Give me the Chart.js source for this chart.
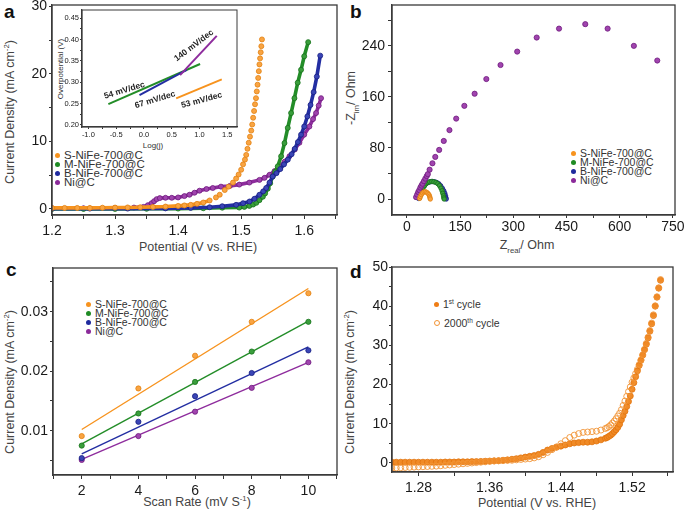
<!DOCTYPE html>
<html>
<head>
<meta charset="utf-8">
<script src="https://cdn.jsdelivr.net/npm/chart.js@4.4.1/dist/chart.umd.min.js"></script>
<style>
body{margin:0;width:685px;height:516px;overflow:hidden;background:#fff;position:relative;font-family:"Liberation Sans",Arial,sans-serif}
canvas{position:absolute}
.t{position:absolute;white-space:nowrap;color:#444;font-size:12.5px;transform:translate(-50%,-50%)}
.r{transform:translate(-50%,-50%) rotate(-90deg)}
.sm{font-size:8px;color:#333}
.lbl{position:absolute;font-weight:bold;font-size:19px;color:#111;line-height:19px}
.leg{position:absolute;font-size:11px;color:#333}
.leg div{height:9px;line-height:9px;white-space:nowrap}
.dot{display:inline-block;width:5px;height:5px;border-radius:50%;margin-right:4px;vertical-align:1px}
sup,sub{font-size:0.62em;line-height:0}
</style>
</head>
<body>
<!-- panel a -->
<div class="lbl" style="left:4px;top:2px">a</div>
<div class="t r" style="left:10px;top:112px">Current Density (mA cm<sup>-2</sup>)</div>
<div class="t" style="left:198px;top:247px">Potential (V vs. RHE)</div>
<div class="t r sm" style="left:60px;top:69px">Overpotential (V)</div>
<div class="t sm" style="left:153px;top:145px">Log(j)</div>
<div class="leg" style="left:55px;top:151px;font-size:11.5px">
  <div><span class="dot" style="background:#f7931e"></span>S-NiFe-700@C</div>
  <div><span class="dot" style="background:#1f8b24"></span>M-NiFe-700@C</div>
  <div><span class="dot" style="background:#1f2a9e"></span>B-NiFe-700@C</div>
  <div><span class="dot" style="background:#8b2a9a"></span>Ni@C</div>
</div>
<!-- panel b -->
<div class="lbl" style="left:350px;top:2px">b</div>
<div class="t r" style="left:351px;top:98px">-Z<sub>im</sub>/ Ohm</div>
<div class="t" style="left:527px;top:245px">Z<sub>real</sub>/ Ohm</div>
<div class="leg" style="left:571px;top:149px;font-size:10.5px">
  <div><span class="dot" style="background:#f7931e"></span>S-NiFe-700@C</div>
  <div><span class="dot" style="background:#1f8b24"></span>M-NiFe-700@C</div>
  <div><span class="dot" style="background:#1f2a9e"></span>B-NiFe-700@C</div>
  <div><span class="dot" style="background:#8b2a9a"></span>Ni@C</div>
</div>
<!-- panel c -->
<div class="lbl" style="left:6px;top:260px">c</div>
<div class="t r" style="left:10px;top:382px">Current Density (mA cm<sup>-2</sup>)</div>
<div class="t" style="left:197px;top:502px">Scan Rate (mV S<sup>-1</sup>)</div>
<div class="leg" style="left:86px;top:300px;font-size:10.5px">
  <div><span class="dot" style="background:#f7931e"></span>S-NiFe-700@C</div>
  <div><span class="dot" style="background:#1f8b24"></span>M-NiFe-700@C</div>
  <div><span class="dot" style="background:#1f2a9e"></span>B-NiFe-700@C</div>
  <div><span class="dot" style="background:#8b2a9a"></span>Ni@C</div>
</div>
<!-- panel d -->
<div class="lbl" style="left:350px;top:262px">d</div>
<div class="t r" style="left:350px;top:382px">Current Density (mA cm<sup>-2</sup>)</div>
<div class="t" style="left:537px;top:503px">Potential (V vs. RHE)</div>
<div class="leg" style="left:434px;top:300px;font-size:10.5px">
  <div style="height:19px"><span class="dot" style="background:#ef7d16"></span>1<sup>st</sup> cycle</div>
  <div><span class="dot" style="background:#fff;border:1px solid #f29436;width:4px;height:4px"></span>2000<sup>th</sup> cycle</div>
</div>

<script>
const FONT = '"Liberation Sans", Arial, sans-serif'

// ---- panel a: polarization curves ----
const aSPot = [1.20,1.22,1.24,1.26,1.28,1.30,1.32,1.34,1.36,1.38,1.40,1.41,1.42,1.43,1.44,1.45,1.46,1.466,1.474,1.480,1.487,1.492,1.496,1.500,1.503,1.506,1.508,1.510,1.512,1.514,1.516,1.5175,1.519,1.5205,1.522,1.5235,1.5248,1.526,1.527,1.528,1.529,1.530,1.531,1.532,1.533]
const aSJ = [0.15,0.15,0.15,0.15,0.18,0.2,0.22,0.25,0.3,0.35,0.45,0.52,0.6,0.75,0.95,1.25,1.7,2.1,2.8,3.3,3.9,4.5,5.1,5.8,6.6,7.3,8.0,8.9,9.8,10.7,11.6,12.5,13.5,14.5,15.5,16.4,17.4,18.4,19.4,20.4,21.4,22.3,23.2,24.1,25.1]
const aMPot = [1.20,1.25,1.30,1.35,1.40,1.44,1.47,1.497,1.505,1.513,1.519,1.524,1.529,1.5344,1.538,1.5423,1.546,1.550,1.554,1.558,1.5634,1.5687,1.5739,1.5792,1.5845,1.5897,1.595,1.600,1.6063]
const aMJ = [0,0,0,0.02,0.05,0.1,0.18,0.2,0.3,0.45,0.65,0.9,1.3,1.8,2.3,3.0,3.8,4.8,5.5,6.3,7.8,9.75,12.0,14.2,16.4,18.7,20.6,22.6,24.7]
const aBPot = [1.20,1.26,1.32,1.38,1.42,1.45,1.47,1.492,1.503,1.5133,1.521,1.529,1.535,1.5397,1.545,1.550,1.556,1.562,1.568,1.574,1.580,1.585,1.590,1.595,1.600,1.605,1.610,1.615,1.620,1.6254]
const aBJ = [0.05,0.05,0.05,0.08,0.15,0.25,0.4,0.6,0.85,1.1,1.5,2.1,2.6,3.1,3.9,4.8,5.3,5.9,6.6,7.3,8.1,8.9,9.9,11.0,12.2,13.7,15.4,17.3,19.6,22.7]
const aNPot = [1.20,1.25,1.30,1.33,1.345,1.352,1.358,1.362,1.366,1.371,1.38,1.39,1.40,1.41,1.418,1.426,1.434,1.445,1.455,1.468,1.482,1.497,1.513,1.529,1.537,1.545,1.553,1.5608,1.569,1.5766,1.585,1.5924,1.600,1.6082,1.614,1.6188,1.623,1.6267]
const aNJ = [0.1,0.1,0.15,0.2,0.3,0.55,0.85,1.15,1.45,1.6,1.65,1.65,1.7,1.9,2.1,2.4,2.7,2.95,3.1,3.3,3.4,3.6,3.9,4.3,4.6,5.05,5.6,6.3,7.0,7.8,8.8,9.8,11.0,12.2,13.3,14.2,15.3,16.4]
const aXTicks = [1.2,1.25,1.3,1.35,1.4,1.45,1.5,1.55,1.6,1.65]
const aXLabels = ['1.2','','1.3','','1.4','','1.5','','1.6','']
const aYTicks = [0,5,10,15,20,25,30]
const aYLabels = ['0','','10','','20','','30']

// inset: Tafel fits
const insLogS = [0.58,1.40], insEtaS = [0.2625,0.307]
const insLogM = [-0.64,1.01], insEtaM = [0.249,0.343]
const insLogB = [-0.08,0.77], insEtaB = [0.27,0.329]
const insLogN = [0.65,1.31], insEtaN = [0.317,0.409]
const insXTicks = [-1,-0.75,-0.5,-0.25,0,0.25,0.5,0.75,1,1.25,1.5]
const insXLabels = ['-1.0','','-0.5','','0.0','','0.5','','1.0','','1.5']
const insYTicks = [0.2,0.225,0.25,0.275,0.3,0.325,0.35,0.375,0.4,0.425,0.45]
const insYLabels = ['0.20','','0.25','','0.30','','0.35','','0.40','','0.45']

// ---- panel b: Nyquist ----
const bSRe = [36,38,41,44,48,52,56,59,62,64,65,66]
const bSIm = [1,4,7,9.5,11,11.5,10.5,9,7,4.5,2,0]
const bMRe = [36,38,40,43,46,50,54,59,64,70,76,82,87,92,96,99,101,103,104,105]
const bMIm = [2,6,10,14,18,21,24,26,27,27.5,27,26,24,21,17,13,9,5,2,0]
const bBRe = [33,35,38,41,45,49,54,60,66,72,78,84,90,95,100,104,107,109,110,111]
const bBIm = [1,5,10,14,18,21,24,26,27,27.5,27,26,24,21,17,13,9,5,2,0]
const bNRe = [26,29,32,35,38,41,44,48,52,56,59,64,72,80,91,104,120,139,162,191,224,264,311,366,429,503,566,640,706]
const bNIm = [3,7,11,14,18,21,24,28,32,36,39,46,56,66,77,91,108,126,146,165,188,210,231,253,267,274,267,240,217]
const bXTicks = [0,75,150,225,300,375,450,525,600,675,750]
const bXLabels = ['0','','150','','300','','450','','600','','750']
const bYTicks = [0,40,80,120,160,200,240,280]
const bYLabels = ['0','','80','','160','','240','']

// ---- panel c: scan rate ----
const cRate = [2,4,6,8,10]
const cS = [0.0091,0.0171,0.0226,0.0283,0.0331]
const cM = [0.0075,0.0129,0.0182,0.0233,0.0283]
const cB = [0.0054,0.0115,0.0158,0.0197,0.0235]
const cN = [0.0051,0.0091,0.0132,0.0172,0.0215]
const cFitX = [2,10]
const cFitS = [0.0102,0.0339]
const cFitM = [0.0078,0.0284]
const cFitB = [0.0061,0.0241]
const cFitN = [0.0052,0.0215]
const cXTicks = [1,2,3,4,5,6,7,8,9,10,11]
const cXLabels = ['','2','','4','','6','','8','','10','']
const cYTicks = [0.005,0.01,0.015,0.02,0.025,0.03,0.035]
const cYLabels = ['','0.01','','0.02','','0.03','']

// ---- panel d: stability ----
const dPot = [1.250,1.255,1.260,1.265,1.270,1.275,1.280,1.285,1.290,1.295,1.300,1.305,1.310,1.315,1.320,1.325,1.330,1.335,1.340,1.345,1.350,1.355,1.360,1.365,1.370,1.375,1.380,1.385,1.390,1.395,1.400,1.405,1.410,1.415,1.420,1.425,1.430,1.435,1.440,1.445,1.450,1.455,1.460,1.465,1.470,1.475,1.480,1.485,1.490,
  1.492,1.494,1.496,1.498,1.500,1.502,1.504,1.506,1.508,1.510,1.512,1.514,1.516,1.518,1.520,1.522,1.524,1.526,1.528,1.530,1.532,1.534,1.536,1.538,1.540,1.542,1.544,1.546,1.548,1.550,1.552]
const dFirst = [0.2,0.2,0.2,0.2,0.2,0.2,0.2,0.2,0.2,0.2,0.2,
  0.2,0.25,0.25,0.25,0.3,0.3,0.3,0.35,0.35,0.4,0.45,0.5,0.55,0.6,0.7,0.8,0.95,1.1,1.3,1.5,1.7,1.9,2.2,2.7,3.3,3.7,4.0,4.3,4.6,4.9,5.1,5.2,5.3,5.3,5.4,5.6,5.9,6.3,
  6.5,6.8,7.1,7.5,8.0,8.5,9.1,9.9,11.0,12.1,13.2,14.4,15.7,17.1,18.8,20.5,22.0,23.5,24.9,26.2,27.5,28.9,30.3,31.9,33.6,35.5,37.6,40.0,42.3,44.6,46.6]
const dLast = [-1.3,-1.25,-1.2,-1.15,-1.1,-1.05,-1.0,-0.95,-0.9,-0.85,-0.8,
  -0.7,-0.6,-0.5,-0.4,-0.3,-0.2,-0.1,0.0,0.1,0.2,0.3,0.4,0.5,0.55,0.6,0.65,0.7,0.8,0.9,1.0,1.1,1.3,1.6,2.1,2.7,3.4,4.1,4.9,5.7,6.5,7.1,7.5,7.8,7.9,8.0,8.1,8.4,8.8,
  9.0,9.3,9.7,10.2,10.7,11.3,12.0,12.7,13.6,14.7,15.8,17.0,18.2,19.4,20.6,21.7,22.8,23.9,25.1,26.3,27.6,29.0,30.5,32.1,33.8,35.7,37.8,40.1,42.4,44.7,46.8]
const dXTicks = [1.28,1.32,1.36,1.40,1.44,1.48,1.52,1.56]
const dXLabels = ['1.28','','1.36','','1.44','','1.52','']
const dYTicks = [0,5,10,15,20,25,30,35,40,45,50]
const dYLabels = ['0','','10','','20','','30','','40','','50']

const col = {
  S: { line: '#f7931e', fill: '#f9a442', edge: '#e2800f' },
  M: { line: '#238d28', fill: '#3a9e3c', edge: '#17721b' },
  B: { line: '#232ea2', fill: '#3a45b6', edge: '#161e82' },
  N: { line: '#8e2c9d', fill: '#a044ae', edge: '#6e1a7e' }
}

const pts = (xs, ys) => xs.map((x, i) => ({ x: x, y: ys[i] }))

const framePlugin = {
  id: 'frame',
  afterDraw(chart, args, opts) {
    const { left, top, right, bottom } = chart.chartArea
    const ctx = chart.ctx
    ctx.save()
    ctx.strokeStyle = opts.color || '#3a3a3a'
    ctx.lineWidth = opts.width || 1.3
    ctx.strokeRect(left, top, right - left, bottom - top)
    ctx.restore()
  }
}

const notePlugin = {
  id: 'notes',
  afterDatasetsDraw(chart, args, opts) {
    const ctx = chart.ctx
    const sx = chart.scales.x, sy = chart.scales.y;
    (opts.items || []).forEach(n => {
      ctx.save()
      ctx.translate(sx.getPixelForValue(n.x), sy.getPixelForValue(n.y))
      ctx.rotate(n.rot * Math.PI / 180)
      ctx.font = 'bold 8.5px ' + FONT
      ctx.fillStyle = '#222'
      ctx.textAlign = 'center'
      ctx.textBaseline = 'middle'
      ctx.fillText(n.text, 0, 0)
      ctx.restore()
    })
  }
}

function axis(min, max, ticks, labels, o) {
  o = o || {}
  return {
    type: 'linear', min: min, max: max,
    afterBuildTicks: s => { s.ticks = ticks.map(v => ({ value: v })) },
    ticks: {
      autoSkip: false, maxRotation: 0, padding: o.pad === undefined ? 3 : o.pad, color: '#1a1a1a',
      font: { family: FONT, size: o.fs || 14 },
      callback: (v, i) => labels[i]
    },
    grid: { drawOnChartArea: false, tickLength: o.tl || 4, tickColor: '#333', tickWidth: 1 },
    border: { color: '#3a3a3a', width: 1.3 }
  }
}

function makeChart(box, frame, xs, ys, datasets, extra) {
  const cv = document.createElement('canvas')
  cv.width = box.r - box.l
  cv.height = box.b - box.t
  cv.style.left = box.l + 'px'
  cv.style.top = box.t + 'px'
  document.body.appendChild(cv)
  xs.afterFit = s => { s.height = box.b - frame.b }
  ys.afterFit = s => { s.width = frame.l - box.l }
  return new Chart(cv, {
    type: 'scatter',
    data: { datasets: datasets },
    options: {
      responsive: false, animation: false, events: [],
      layout: { padding: { top: frame.t - box.t, right: box.r - frame.r, left: 0, bottom: 0 } },
      plugins: Object.assign({ legend: { display: false }, tooltip: { enabled: false } }, extra || {}),
      scales: { x: xs, y: ys }
    },
    plugins: [framePlugin, notePlugin]
  })
}

function beads(c, xs, ys, hideSteep) {
  const ds = {
    data: pts(xs, ys), showLine: true, borderColor: c.line, borderWidth: 3.6,
    pointRadius: 2.5, pointBackgroundColor: c.fill, pointBorderColor: c.edge, pointBorderWidth: 0.8
  }
  if (hideSteep) {
    ds.segment = { borderColor: ctx => Math.abs(ctx.p1.parsed.y - ctx.p0.parsed.y) > 0.4 ? 'rgba(0,0,0,0)' : c.line }
  }
  return ds
}

// panel a
makeChart({ l: 0, t: -10, r: 345, b: 240 }, { l: 52, t: 5, r: 337, b: 215 },
  axis(1.2, 1.652, aXTicks, aXLabels, { pad: 4 }),
  axis(-0.9, 30.2, aYTicks, aYLabels, { tl: 3, pad: 2 }),
  [beads(col.S, aSPot, aSJ, true), beads(col.B, aBPot, aBJ), beads(col.M, aMPot, aMJ), beads(col.N, aNPot, aNJ)])

// inset
const line2 = (c, xs, ys) => ({ data: pts(xs, ys), showLine: true, borderColor: c.line, borderWidth: 2, pointRadius: 0 })
makeChart({ l: 56, t: 2, r: 245, b: 145 }, { l: 82, t: 10, r: 237, b: 127 },
  axis(-1.114, 1.674, insXTicks, insXLabels, { fs: 7.5, tl: 2, pad: 1 }),
  axis(0.1953, 0.4695, insYTicks, insYLabels, { fs: 7.5, tl: 2, pad: 1 }),
  [line2(col.S, insLogS, insEtaS), line2(col.N, insLogN, insEtaN), line2(col.B, insLogB, insEtaB), line2(col.M, insLogM, insEtaM)],
  { frame: { width: 1 }, notes: { items: [
    { text: '54 mV/dec', x: -0.35, y: 0.281, rot: -17 },
    { text: '67 mV/dec', x: 0.2, y: 0.259, rot: -17 },
    { text: '140 mV/dec', x: 0.9, y: 0.386, rot: -37 },
    { text: '53 mV/dec', x: 1.04, y: 0.258, rot: -15 }
  ] } })

// panel b
const ball = (c, xs, ys, r) => ({ data: pts(xs, ys), pointRadius: r, pointBackgroundColor: c.fill, pointBorderColor: c.edge, pointBorderWidth: 0.8 })
makeChart({ l: 345, t: -10, r: 695, b: 240 }, { l: 392, t: 5, r: 675, b: 215 },
  axis(-42, 756, bXTicks, bXLabels, { tl: 3, pad: 1 }),
  axis(-25, 304, bYTicks, bYLabels, { tl: 4, pad: 3 }),
  [ball(col.S, bSRe, bSIm, 2.2), ball(col.N, bNRe, bNIm, 2.6), ball(col.M, bMRe, bMIm, 2.2), ball(col.B, bBRe, bBIm, 2.2)])

// panel c
const fit = (c, ys) => ({ data: pts(cFitX, ys), showLine: true, borderColor: c.line, borderWidth: 1.4, pointRadius: 0 })
makeChart({ l: 0, t: 250, r: 345, b: 500 }, { l: 53, t: 268, r: 337, b: 475 },
  axis(0.986, 11.01, cXTicks, cXLabels, { pad: 4 }),
  axis(0.00256, 0.03734, cYTicks, cYLabels, { tl: 3, pad: 2 }),
  [ball(col.S, cRate, cS, 2.6), ball(col.M, cRate, cM, 2.6), ball(col.B, cRate, cB, 2.6), ball(col.N, cRate, cN, 2.6),
   fit(col.S, cFitS), fit(col.M, cFitM), fit(col.B, cFitB), fit(col.N, cFitN)])

// panel d
makeChart({ l: 345, t: 250, r: 695, b: 500 }, { l: 392, t: 267, r: 673, b: 472 },
  axis(1.2502, 1.566, dXTicks, dXLabels, { pad: 4 }),
  axis(-2.3, 50, dYTicks, dYLabels, { tl: 3, pad: 1 }),
  [
    { data: pts(dPot, dLast), pointRadius: 3, pointBackgroundColor: 'rgba(255,255,255,0)', pointBorderColor: '#f29436', pointBorderWidth: 0.9 },
    { data: pts(dPot, dFirst), pointRadius: 3, pointBackgroundColor: '#f08a26', pointBorderColor: '#e2740c', pointBorderWidth: 0.8 }
  ])
</script>
</body>
</html>
